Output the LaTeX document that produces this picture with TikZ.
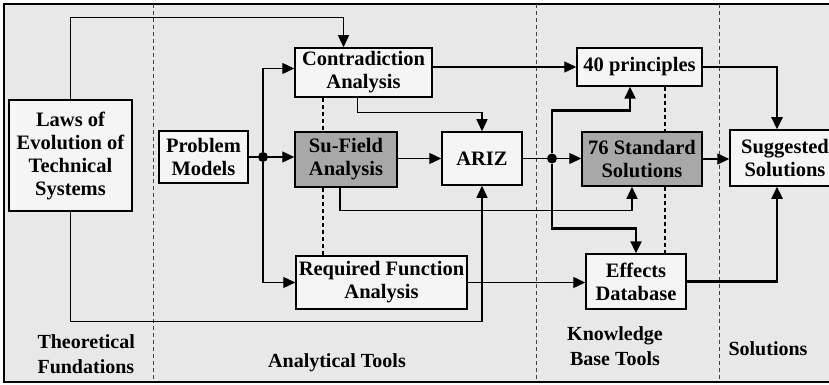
\documentclass[tikz,border=0pt]{standalone}
\usepackage{fontspec}
\setmainfont{Liberation Serif}
\usepackage{tikz}
\usepackage{xcolor}
\usetikzlibrary{arrows.meta}
\usetikzlibrary{shapes}

\begin{document}
\begin{tikzpicture}[x=1pt, y=-1pt,
	box/.style={draw, line width=1.5pt, fill=gray!8, inner sep=0pt, align=center,
		font=\bfseries\fontsize{20.5}{23}\selectfont},
	darkbox/.style={box, fill=gray!68},
	dot/.style={circle, fill=black, inner sep=0pt, minimum size=10pt},
	conn/.style={line width=1.3pt, ->, >={Triangle[length=12pt,width=11pt]}},
	thick conn/.style={conn, line width=2.4pt},
	sep/.style={line width=0.8pt, dash pattern=on 4pt off 3pt, color=darkgray},
	label/.style={font=\bfseries\fontsize{20}{25}\selectfont, align=center}]

	% page and frame
	\clip (0,0) rectangle (829,385);
	\fill[white] (0,0) rectangle (829,385);
	\draw[fill=gray!18, line width=1.5pt] (4,4) rectangle (845,382);

	% column separators
	\foreach \x in {153, 536, 719}
		\draw[sep] (\x,4) -- (\x,382);

	% boxes
	\node[box, minimum width=123pt, minimum height=111pt] (laws) at (70.5,155.5) {Laws of\\Evolution of\\Technical\\Systems};
	\node[box, minimum width=89pt, minimum height=52pt] (prob) at (203.5,157) {Problem\\Models};
	\node[box, minimum width=137pt, minimum height=49pt] (contra) at (363.5,72.5) {Contradiction\\Analysis};
	\node[darkbox, minimum width=102pt, minimum height=55pt] (sufield) at (346,159.5) {Su-Field\\Analysis};
	\node[box, minimum width=80pt, minimum height=53pt] (ariz) at (482,158.5) {ARIZ};
	\node[box, minimum width=171pt, minimum height=53pt] (reqf) at (381.5,282.5) {Required Function\\Analysis};
	\node[box, minimum width=125pt, minimum height=38pt] (princ) at (639.5,67) {40 principles};
	\node[darkbox, minimum width=120pt, minimum height=54pt] (std) at (642,159) {76 Standard\\Solutions};
	\node[box, minimum width=110pt, minimum height=56pt] (sugg) at (785,158) {Suggested\\Solutions};
	\node[box, minimum width=100pt, minimum height=55pt] (eff) at (636,281.5) {Effects\\Database};

	% junctions
	\node[dot] (j1) at (263,157) {};
	\node[dot] (j2) at (552,158.5) {};
	\coordinate (dA) at (323,0);
	\coordinate (dB) at (665,0);

	% dashed links between tools
	\draw[sep, line width=1.2pt, color=black] (contra.south -| dA) -- (sufield.north -| dA);
	\draw[sep, line width=1.2pt, color=black] (sufield.south -| dA) -- (reqf.north -| dA);
	\draw[sep, line width=1.2pt, color=black] (princ.south -| dB) -- (std.north -| dB);
	\draw[sep, line width=1.2pt, color=black] (std.south -| dB) -- (eff.north -| dB);

	% Arrows
	\draw[conn] (laws.north) -- ++(0,-82) -| ([xshift=-20pt]contra.north);
	\draw[conn] (laws.south) -- ++(0,110) -| (ariz.south);
	\draw[line width=1.3pt] (prob.east |- j1) -- (j1);
	\draw[conn] (j1) -- (sufield.west |- j1);
	\draw[conn] (j1) |- ([yshift=4pt]contra.west);
	\draw[conn] (j1) |- (reqf.west);
	\draw[conn] ([xshift=-6pt]contra.south) -- ++(0,15) -| (ariz.north);
	\draw[conn] (contra.east |- princ.west) -- (princ.west);
	\draw[conn] (sufield.east |- ariz.west) -- (ariz.west);
	\draw[conn] ([xshift=-6pt]sufield.south) -- ++(0,23) -| ([xshift=-10pt]std.south);
	\draw[line width=1.3pt] (ariz.east) -- (j2);
	\draw[conn] (j2) -- (std.west |- j2);
	\draw[thick conn] (j2) -- ++(0,-48) -| ([xshift=-9.5pt]princ.south);
	\draw[thick conn] (j2) -- ++(0,70) -| (eff.north);
	\draw[conn] (reqf.east) -- (eff.west |- reqf.east);
	\draw[thick conn] (princ.east) -| ([xshift=-8pt]sugg.north);
	\draw[conn] (std.east) -- (sugg.west |- std.east);
	\draw[thick conn] (eff.east) -| ([xshift=-8pt]sugg.south);

	% Text nodes
	\node[label, align=left, anchor=west] (theo) at (34,354) {Theoretical\\Fundations};
	\node[label] (anal) at (337,363) {Analytical Tools};
	\node[label] (know) at (615,346) {Knowledge\\Base Tools};
	\node[label] (solu) at (768,349) {Solutions};
\end{tikzpicture}
\end{document}
